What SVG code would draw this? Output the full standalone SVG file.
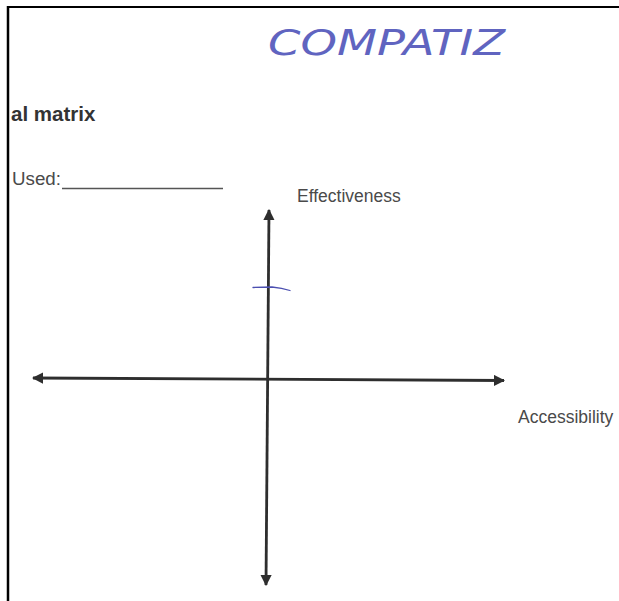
<svg xmlns="http://www.w3.org/2000/svg" width="619" height="601" viewBox="0 0 619 601">
<defs>
<style>
.lbl{font-family:"Liberation Sans",Arial,sans-serif;fill:#4a4a4a;font-size:17.5px}
.axis{stroke:#2e2e2e;stroke-width:2.8;fill:none}
.ink{fill:none;stroke:#4b4fb0;stroke-width:1.3;stroke-linecap:round}
</style>
<marker id="ah" viewBox="0 0 10 10" refX="9" refY="5" markerWidth="4" markerHeight="4" orient="auto-start-reverse" markerUnits="strokeWidth">
<path d="M0,0 L10,5 L0,10 z" fill="#2e2e2e"/>
</marker>
</defs>
<rect width="619" height="601" fill="#ffffff"/>
<g id="border">
<line x1="8" y1="7" x2="619" y2="7" stroke="#000" stroke-width="2"/>
<line x1="8" y1="6" x2="8" y2="601" stroke="#000" stroke-width="2.5"/>
</g>
<g id="handwriting">
<text x="268" y="55" font-family="DejaVu Sans ExtraLight,DejaVu Sans,sans-serif" font-weight="200" font-size="36" fill="#6064c0" font-style="italic" textLength="237" lengthAdjust="spacingAndGlyphs">COMPATIZ</text>
</g>
<g id="title">
<text x="11" y="121" font-family="Liberation Sans,Arial,sans-serif" font-size="20.5" font-weight="bold" fill="#333">al matrix</text>
</g>
<g id="used">
<text class="lbl" x="12" y="185" font-size="19.5" textLength="49" lengthAdjust="spacingAndGlyphs">Used:</text>
<line x1="62" y1="188.5" x2="223" y2="188.5" stroke="#555" stroke-width="1.4"/>
</g>
<g id="connectors">
<line class="axis" x1="269" y1="210" x2="266" y2="585" marker-start="url(#ah)" marker-end="url(#ah)"/>
<line class="axis" x1="33" y1="378" x2="504" y2="380.5" marker-start="url(#ah)" marker-end="url(#ah)"/>
</g>
<g id="tick">
<path class="ink" d="M253,287.5 L272,287 Q282,288 290,290.5"/>
</g>
<g id="effectiveness">
<text class="lbl" x="297" y="202">Effectiveness</text>
</g>
<g id="accessibility">
<text class="lbl" x="518" y="423">Accessibility</text>
</g>
</svg>
